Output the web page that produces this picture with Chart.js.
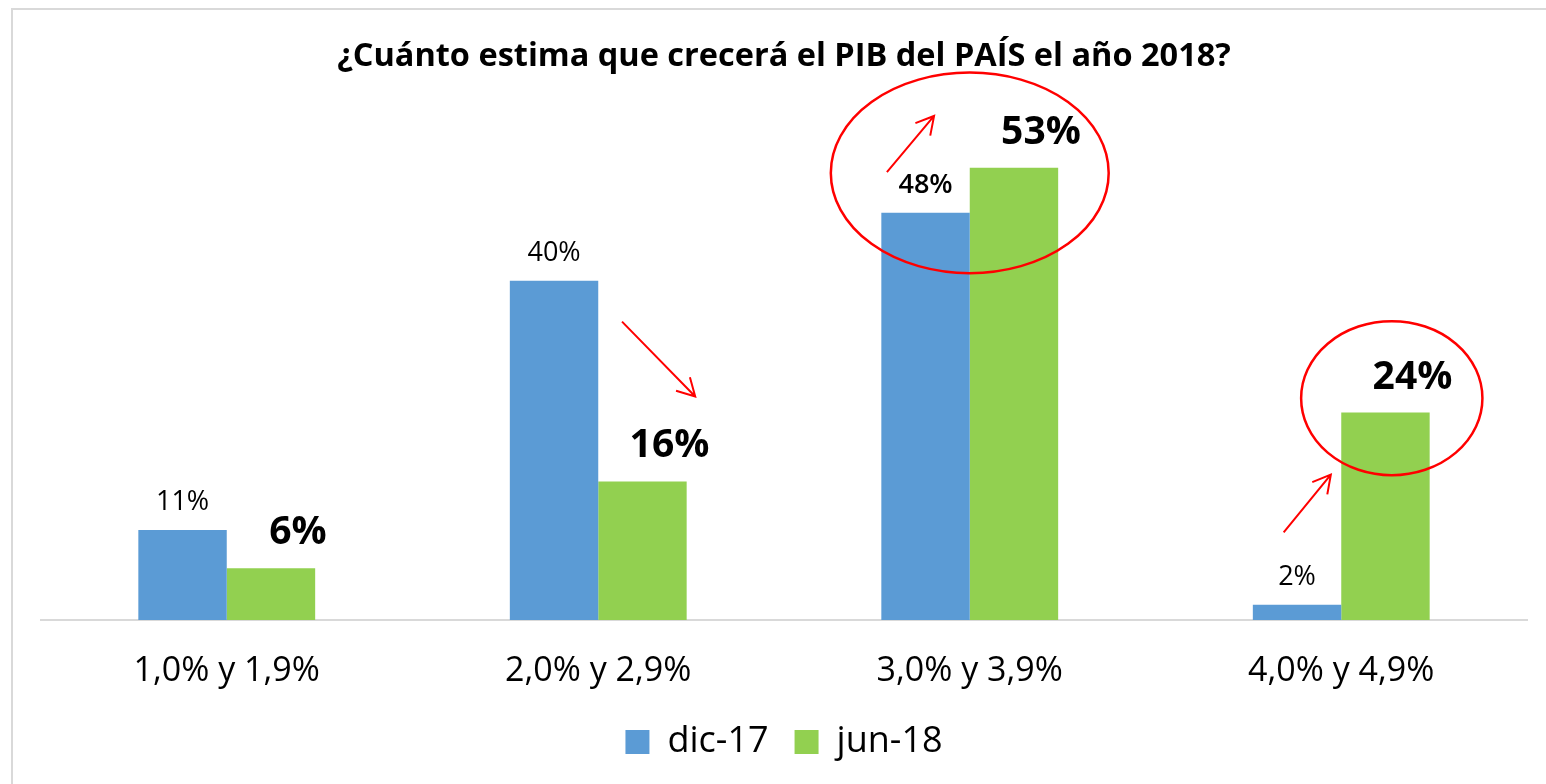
<!DOCTYPE html>
<html lang="es">
<head>
<meta charset="utf-8">
<title>PIB 2018</title>
<script src="https://cdn.jsdelivr.net/npm/chart.js@4.4.0/dist/chart.umd.min.js"></script>
<style>
    html, body { margin: 0; padding: 0; background: #fff; overflow: hidden; }
    #wrap { width: 1546px; height: 784px; position: relative; }
</style>
</head>
<body>
<div id="wrap"><canvas id="pibChart" width="1546" height="784"></canvas></div>
<script>
// Datos
const categorias = ['1,0% y 1,9%', '2,0% y 2,9%', '3,0% y 3,9%', '4,0% y 4,9%'];
const series = ['dic-17', 'jun-18'];
const valoresDic17 = [10.6, 39.9, 47.9, 1.8];
const valoresJun18 = [6.1, 16.3, 53.2, 24.4];

const titulo = '¿Cuánto estima que crecerá el PIB del PAÍS el año 2018?';
const fuente = "'Open Sans', sans-serif";

// Marco gris claro alrededor del grafico
const marcoPlugin = {
    id: 'marco',
    beforeDraw(chart) {
        const ctx = chart.ctx;
        ctx.save();
        ctx.fillStyle = '#ffffff';
        ctx.fillRect(0, 0, chart.width, chart.height);
        ctx.strokeStyle = '#d9d9d9';
        ctx.lineWidth = 2;
        ctx.strokeRect(12, 9, chart.width + 50, chart.height + 50);
        ctx.restore();
    }
};

// Etiquetas de datos encima de cada barra
const etiquetasPlugin = {
    id: 'etiquetas',
    afterDatasetsDraw(chart, args, opts) {
        const ctx = chart.ctx;
        ctx.save();
        ctx.fillStyle = '#000';
        ctx.textAlign = 'center';
        ctx.textBaseline = 'alphabetic';
        chart.data.datasets.forEach((ds, i) => {
            const meta = chart.getDatasetMeta(i);
            const st = opts.estilos[i];
            meta.data.forEach((bar, j) => {
                const destacado = st.destacar && st.destacar.indexOf(j) >= 0;
                ctx.font = (destacado ? st.pesoDestacado : st.peso) + ' ' + st.tam + 'px ' + fuente;
                const txt = Math.round(ds.data[j]) + '%';
                ctx.fillText(txt, bar.x + st.dx, bar.y - st.gap);
            });
        });
        ctx.restore();
    }
};

// Elipses y flechas rojas (en unidades de categoria / valor)
const anotacionesPlugin = {
    id: 'anotaciones',
    afterDraw(chart, args, opts) {
        const ctx = chart.ctx;
        const xs = chart.scales.x;
        const ys = chart.scales.y;
        const paso = xs.getPixelForValue(1) - xs.getPixelForValue(0);
        const px = (c, d) => xs.getPixelForValue(c) + d * paso;
        const py = v => ys.getPixelForValue(v);
        ctx.save();
        ctx.strokeStyle = '#ff0000';

        ctx.lineWidth = 2.5;
        opts.elipses.forEach(e => {
            const cy = py(e.y);
            const ry = Math.abs(py(e.y + e.ry) - cy);
            ctx.beginPath();
            ctx.ellipse(px(e.cat, e.dx), cy, e.rx * paso, ry, 0, 0, Math.PI * 2);
            ctx.stroke();
        });

        ctx.lineWidth = 2;
        opts.flechas.forEach(f => {
            const x1 = px(f.cat, f.dx1), y1 = py(f.y1);
            const x2 = px(f.cat, f.dx2), y2 = py(f.y2);
            const ang = Math.atan2(y2 - y1, x2 - x1);
            const largo = 20, abre = 29 * Math.PI / 180;
            ctx.beginPath();
            ctx.moveTo(x1, y1);
            ctx.lineTo(x2, y2);
            ctx.moveTo(x2 - largo * Math.cos(ang - abre), y2 - largo * Math.sin(ang - abre));
            ctx.lineTo(x2, y2);
            ctx.lineTo(x2 - largo * Math.cos(ang + abre), y2 - largo * Math.sin(ang + abre));
            ctx.stroke();
        });
        ctx.restore();
    }
};

function inicializarGrafico() {
    const ctx = document.getElementById('pibChart').getContext('2d');
    new Chart(ctx, {
        type: 'bar',
        data: {
            labels: categorias,
            datasets: [
                { label: series[0], data: valoresDic17, backgroundColor: '#5b9bd5', borderWidth: 0 },
                { label: series[1], data: valoresJun18, backgroundColor: '#92d050', borderWidth: 0 }
            ]
        },
        options: {
            responsive: false,
            animation: false,
            events: [],
            categoryPercentage: 0.476,
            barPercentage: 1.0,
            layout: { padding: { left: 41, right: 19, top: 0, bottom: 14 } },
            scales: {
                x: {
                    grid: { display: false, drawTicks: false },
                    border: { display: true, color: '#d9d9d9', width: 2 },
                    ticks: { color: '#000', padding: 31, font: { family: fuente, size: 34 } },
                    afterFit: (escala) => { escala.height = 78; }
                },
                y: { display: false, min: 0, max: 60 }
            },
            plugins: {
                title: {
                    display: true,
                    text: titulo,
                    color: '#000',
                    font: { family: fuente, size: 32.5, weight: 'bold' },
                    padding: { top: 37.5, bottom: 33.5 }
                },
                legend: {
                    position: 'bottom',
                    labels: {
                        color: '#000',
                        boxWidth: 24,
                        boxHeight: 24,
                        padding: 26,
                        font: { family: fuente, size: 36 }
                    }
                },
                tooltip: { enabled: false },
                etiquetas: {
                    estilos: [
                        { peso: 'normal', pesoDestacado: '600', destacar: [2], tam: 27, dx: 0, gap: 20 },
                        { peso: 'bold', pesoDestacado: 'bold', destacar: [], tam: 39, dx: 27, gap: 24 }
                    ]
                },
                anotaciones: {
                    elipses: [
                        { cat: 2, dx: 0, y: 52.6, rx: 0.374, ry: 11.8 },
                        { cat: 3, dx: 0.136, y: 26.1, rx: 0.244, ry: 9.06 }
                    ],
                    flechas: [
                        { cat: 1, dx1: 0.064, y1: 35.1, dx2: 0.261, y2: 26.3 },
                        { cat: 2, dx1: -0.223, y1: 52.7, dx2: -0.096, y2: 59.3 },
                        { cat: 3, dx1: -0.155, y1: 10.3, dx2: -0.028, y2: 17.1 }
                    ]
                }
            }
        },
        plugins: [marcoPlugin, etiquetasPlugin, anotacionesPlugin]
    });
}

inicializarGrafico();
</script>
</body>
</html>
